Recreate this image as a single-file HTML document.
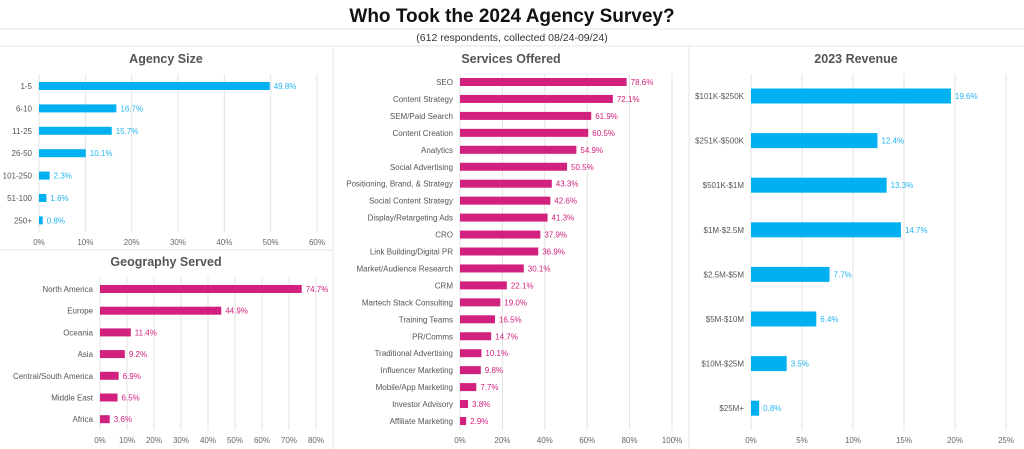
<!DOCTYPE html>
<html><head><meta charset="utf-8"><style>
html,body{margin:0;padding:0;background:#fff;width:1024px;height:449px;overflow:hidden}
svg{display:block;font-family:"Liberation Sans",sans-serif}
</style></head><body>
<svg id="c" width="1024" height="449">
<text x="512" y="22" text-anchor="middle" font-size="19" font-weight="bold" fill="#111">Who Took the 2024 Agency Survey?</text>
<line x1="0" y1="29" x2="1024" y2="29" stroke="#e6e6e6"/>
<text x="512" y="41" text-anchor="middle" font-size="10.5" fill="#333">(612 respondents, collected 08/24-09/24)</text>
<line x1="0" y1="46" x2="1024" y2="46" stroke="#e6e6e6"/>
<line x1="333" y1="46" x2="333" y2="449" stroke="#e6e6e6"/>
<line x1="689" y1="46" x2="689" y2="449" stroke="#e6e6e6"/>
<line x1="0" y1="250" x2="333" y2="250" stroke="#e6e6e6"/>
</svg>
<script>
const sizeCats=["1-5","6-10","11-25","26-50","101-250","51-100","250+"];
const sizeVals=[49.8,16.7,15.7,10.1,2.3,1.6,0.8];
const sizeTicks=[0,10,20,30,40,50,60];
const geoCats=["North America","Europe","Oceania","Asia","Central/South America","Middle East","Africa"];
const geoVals=[74.7,44.9,11.4,9.2,6.9,6.5,3.6];
const geoTicks=[0,10,20,30,40,50,60,70,80];
const svcCats=["SEO","Content Strategy","SEM/Paid Search","Content Creation","Analytics","Social Advertising","Positioning, Brand, & Strategy","Social Content Strategy","Display/Retargeting Ads","CRO","Link Building/Digital PR","Market/Audience Research","CRM","Martech Stack Consulting","Training Teams","PR/Comms","Traditional Advertising","Influencer Marketing","Mobile/App Marketing","Investor Advisory","Affiliate Marketing"];
const svcVals=[78.6,72.1,61.9,60.5,54.9,50.5,43.3,42.6,41.3,37.9,36.9,30.1,22.1,19.0,16.5,14.7,10.1,9.8,7.7,3.8,2.9];
const svcTicks=[0,20,40,60,80,100];
const revCats=["$101K-$250K","$251K-$500K","$501K-$1M","$1M-$2.5M","$2.5M-$5M","$5M-$10M","$10M-$25M","$25M+"];
const revVals=[19.6,12.4,13.3,14.7,7.7,6.4,3.5,0.8];
const revTicks=[0,5,10,15,20,25];

const svg=document.getElementById('c');
const NS='http://www.w3.org/2000/svg';
function mk(tag,a,txt){const e=document.createElementNS(NS,tag);for(const k in a)e.setAttribute(k,a[k]);if(txt!=null)e.textContent=txt;svg.appendChild(e);return e;}

function chart(o){
  const t=mk('text',{x:o.tx,y:o.ty,'text-anchor':'middle','font-size':12.5,'font-weight':'bold',fill:'#555'},o.title);
  
  
  const maxT=o.ticks[o.ticks.length-1];
  const sx=v=>o.x0+(v/maxT)*(o.x1-o.x0);
  o.ticks.forEach(v=>{
    const g=mk('line',{x1:sx(v),x2:sx(v),y1:o.gt,y2:o.gb,stroke:'#e3e3e3'});
    
    
    const l=mk('text',{x:sx(v),y:o.tickY,'text-anchor':'middle','font-size':8,fill:'#666'},v+'%');
    
    
  });
  const sy=i=>o.y0+i*o.step;
  o.cats.forEach((c,i)=>{
    const y=sy(i);
    const l=mk('text',{x:o.x0-7,y:y+3,'text-anchor':'end','font-size':8,fill:'#555'},c);
    
    
    const b=mk('rect',{x:o.x0,y:y-o.bh/2,width:sx(o.vals[i])-o.x0,height:o.bh,fill:o.color});
    
    
    const v=mk('text',{x:sx(o.vals[i])+4,y:y+3,'font-size':8,fill:o.lc},o.vals[i].toFixed(1)+'%');
    
    
  });
}
const BL='#00b0f0',MG='#d1207e';
chart({key:'agency-size',title:'Agency Size',tx:166,ty:63,cats:sizeCats,vals:sizeVals,ticks:sizeTicks,x0:39,x1:317,y0:86,step:22.4,bh:8,gt:74,gb:232,tickY:245,color:BL,lc:'#22b5ee'});
chart({key:'geography',title:'Geography Served',tx:166,ty:266,cats:geoCats,vals:geoVals,ticks:geoTicks,x0:100,x1:316,y0:289,step:21.7,bh:8,gt:277,gb:430,tickY:443,color:MG,lc:MG});
chart({key:'services',title:'Services Offered',tx:511,ty:63,cats:svcCats,vals:svcVals,ticks:svcTicks,x0:460,x1:672,y0:82,step:16.95,bh:8,gt:74,gb:430,tickY:443,color:MG,lc:MG});
chart({key:'revenue',title:'2023 Revenue',tx:856,ty:63,cats:revCats,vals:revVals,ticks:revTicks,x0:751,x1:1006,y0:96,step:44.6,bh:15,gt:74,gb:430,tickY:443,color:BL,lc:'#22b5ee'});
</script>
</body></html>
